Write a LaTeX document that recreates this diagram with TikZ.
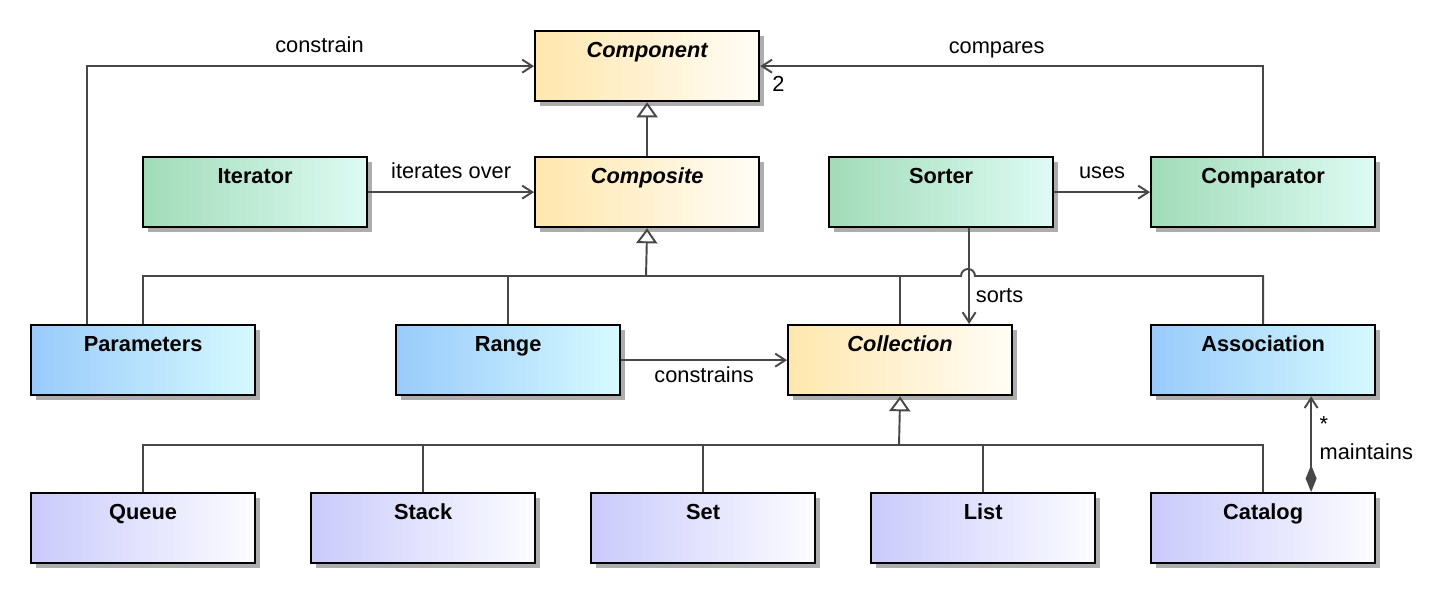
\documentclass[tikz,border=0pt]{standalone}
\usepackage{fontspec}
\setmainfont{Liberation Sans}
\usetikzlibrary{arrows.meta,shadows}

\definecolor{absL}{HTML}{FFE7AE}
\definecolor{absR}{HTML}{FFFDF6}
\definecolor{ctlL}{HTML}{A2DBB8}
\definecolor{ctlR}{HTML}{DDFBF4}
\definecolor{entL}{HTML}{99CAFA}
\definecolor{entR}{HTML}{D6FAFF}
\definecolor{colL}{HTML}{C9CAFA}
\definecolor{colR}{HTML}{FCFCFF}

\newcommand{\diafont}{\fontsize{12.4}{15}\selectfont}

\tikzset{
  cls/.style={draw=black, line width=1.3pt, anchor=north west,
    minimum width=4.48cm, inner xsep=0pt, inner ysep=0.2cm,
    text height=0.32cm, text depth=0.68cm, font=\diafont\bfseries,
    drop shadow={shadow xshift=0.1cm, shadow yshift=-0.1cm, fill=black!32, opacity=1}},
  abst/.style={left color=absL, right color=absR},
  ctl/.style={left color=ctlL, right color=ctlR},
  ent/.style={left color=entL, right color=entR},
  coll/.style={left color=colL, right color=colR},
  link/.style={draw=black!72, line width=1.1pt},
  gen/.style={link, -{Triangle[length=0.3cm, width=0.42cm, fill=white]}},
  dep/.style={link, -{Straight Barb[length=0.2cm, width=0.26cm]}},
  lbl/.style={font=\diafont}
}

\begin{document}
\begin{tikzpicture}[x=0.02cm, y=-0.02cm]
    %\draw[gray] (0,0) grid[step=50] (1442,592);
    \useasboundingbox (0,0) rectangle (1442,592);

    % classes
    \node[cls, abst] (comp) at (534,30) {\itshape Component};
    \node[cls, abst] (compo) at (534,156) {\itshape Composite};
    \node[cls, ctl] (iter) at (142,156) {Iterator};
    \node[cls, ctl] (sorter) at (828,156) {Sorter};
    \node[cls, ctl] (cmp) at (1150,156) {Comparator};
    \node[cls, ent] (param) at (30,324) {Parameters};
    \node[cls, ent] (range) at (395,324) {Range};
    \node[cls, abst] (coll) at (787,324) {\itshape Collection};
    \node[cls, ent] (assoc) at (1150,324) {Association};
    \node[cls, coll] (queue) at (30,492) {Queue};
    \node[cls, coll] (stack) at (310,492) {Stack};
    \node[cls, coll] (set) at (590,492) {Set};
    \node[cls, coll] (list) at (870,492) {List};
    \node[cls, coll] (cat) at (1150,492) {Catalog};

    \coordinate (comptree) at (646,276);
    \coordinate (colltree) at (899,445);

    % generalizations
    \draw[gen] (compo) -- (comp);
    \draw[link] (param.north) |- (comptree);
    \draw[link] (range.north) |- (comptree);
    \draw[link] (coll.north) |- (comptree);
    \draw[link] (assoc.north) |- (975,276) arc[start angle=0, end angle=180, radius=0.14cm] -- (comptree);
    \draw[gen] (comptree) -- (compo.south);
    \foreach \n in {queue,stack,set,list,cat}
        \draw[link] (\n.north) |- (colltree);
    \draw[gen] (colltree) -- (coll.south);

    % associations
    \draw[dep] ([xshift=-1.12cm]param.north) |- (comp.west) node[lbl, pos=0.76, above=4pt] {constrain};
    \draw[dep] (cmp.north) |- (comp.east) node[lbl, pos=0.765, above=1pt] {compares} node[lbl, pos=1, below right, xshift=3pt, yshift=-2pt] {2};
    \draw[dep] (iter) -- node[lbl, above=4pt] {iterates over} (compo);
    \draw[dep] (sorter) -- node[lbl, above=4pt] {uses} (cmp);
    \draw[dep] (range) -- node[lbl, below] {constrains} (coll);
    \draw[dep] ([xshift=0.56cm]sorter.south) -- ([xshift=0.56cm]sorter.south |- coll.north) node[lbl, pos=0.7, right] {sorts};
    \draw[link, {Diamond[length=0.54cm, width=0.22cm]}-{Straight Barb[length=0.2cm, width=0.26cm]}]
        ([xshift=0.96cm]cat.north) -- ([xshift=0.96cm]cat.north |- assoc.south)
        node[lbl, pos=0.71, right=1pt] {*} node[lbl, pos=0.42, right=1pt] {maintains};
\end{tikzpicture}
\end{document}
